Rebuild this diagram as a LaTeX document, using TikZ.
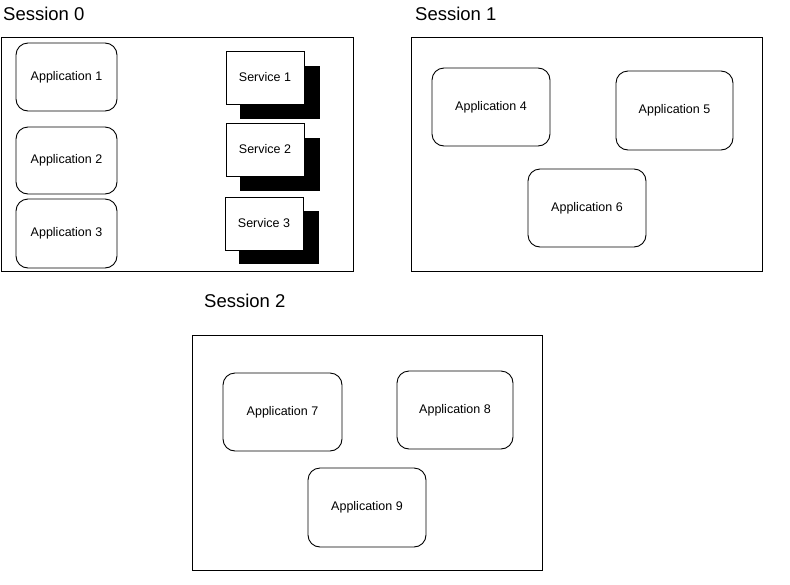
\documentclass[tikz,border=0pt]{standalone}
\usepackage{fontspec}
\setmainfont{Liberation Sans}
\begin{document}
\begin{tikzpicture}[x=1pt,y=-1pt,
  sess/.style={draw=black, line width=1pt, rectangle, inner sep=0pt},
  app/.style={draw=black, line width=0.9pt, rounded corners=12pt, inner sep=0pt, font=\fontsize{12.5}{14}\selectfont},
  svc/.style={draw=black, line width=0.9pt, fill=white, inner sep=0pt, minimum width=78pt, minimum height=53pt, font=\fontsize{12.5}{14}\selectfont},
  shadowbox/.style={fill=black, inner sep=0pt, minimum width=80pt, minimum height=53pt},
  title/.style={font=\fontsize{18.5}{21}\selectfont, anchor=west, inner sep=0pt}]
\useasboundingbox (0,0) rectangle (790,584);
% Session 0
\node[title] (t0) at (3,14) {Session 0};
\node[sess, minimum width=352pt, minimum height=234pt] (s0) at (177,154) {};
\node[app, minimum width=101pt, minimum height=68pt] (a1) at (66.5,77) {Application 1};
\node[app, minimum width=101pt, minimum height=67pt] (a2) at (66.5,160.5) {Application 2};
\node[app, minimum width=101pt, minimum height=69pt] (a3) at (66.5,233.5) {Application 3};
\node[shadowbox] (sh1) at (280,92.5) {};
\node[svc] (v1) at (265,77.5) {Service 1};
\node[shadowbox] (sh2) at (280,164) {};
\node[svc] (v2) at (265,149.5) {Service 2};
\node[shadowbox] (sh3) at (279,237.5) {};
\node[svc] (v3) at (264,223.5) {Service 3};
% Session 1
\node[title] (t1) at (415,14) {Session 1};
\node[sess, minimum width=351pt, minimum height=234pt] (s1) at (586.5,154) {};
\node[app, minimum width=118pt, minimum height=78pt] (a4) at (491,107) {Application 4};
\node[app, minimum width=117pt, minimum height=79pt] (a5) at (674.5,110.5) {Application 5};
\node[app, minimum width=118pt, minimum height=78pt] (a6) at (587,208) {Application 6};
% Session 2
\node[title] (t2) at (204,301) {Session 2};
\node[sess, minimum width=350pt, minimum height=235pt] (s2) at (367,452.5) {};
\node[app, minimum width=119pt, minimum height=78pt] (a7) at (282.5,412) {Application 7};
\node[app, minimum width=116pt, minimum height=78pt] (a8) at (455,410) {Application 8};
\node[app, minimum width=118pt, minimum height=79pt] (a9) at (367,507.5) {Application 9};
\end{tikzpicture}
\end{document}
